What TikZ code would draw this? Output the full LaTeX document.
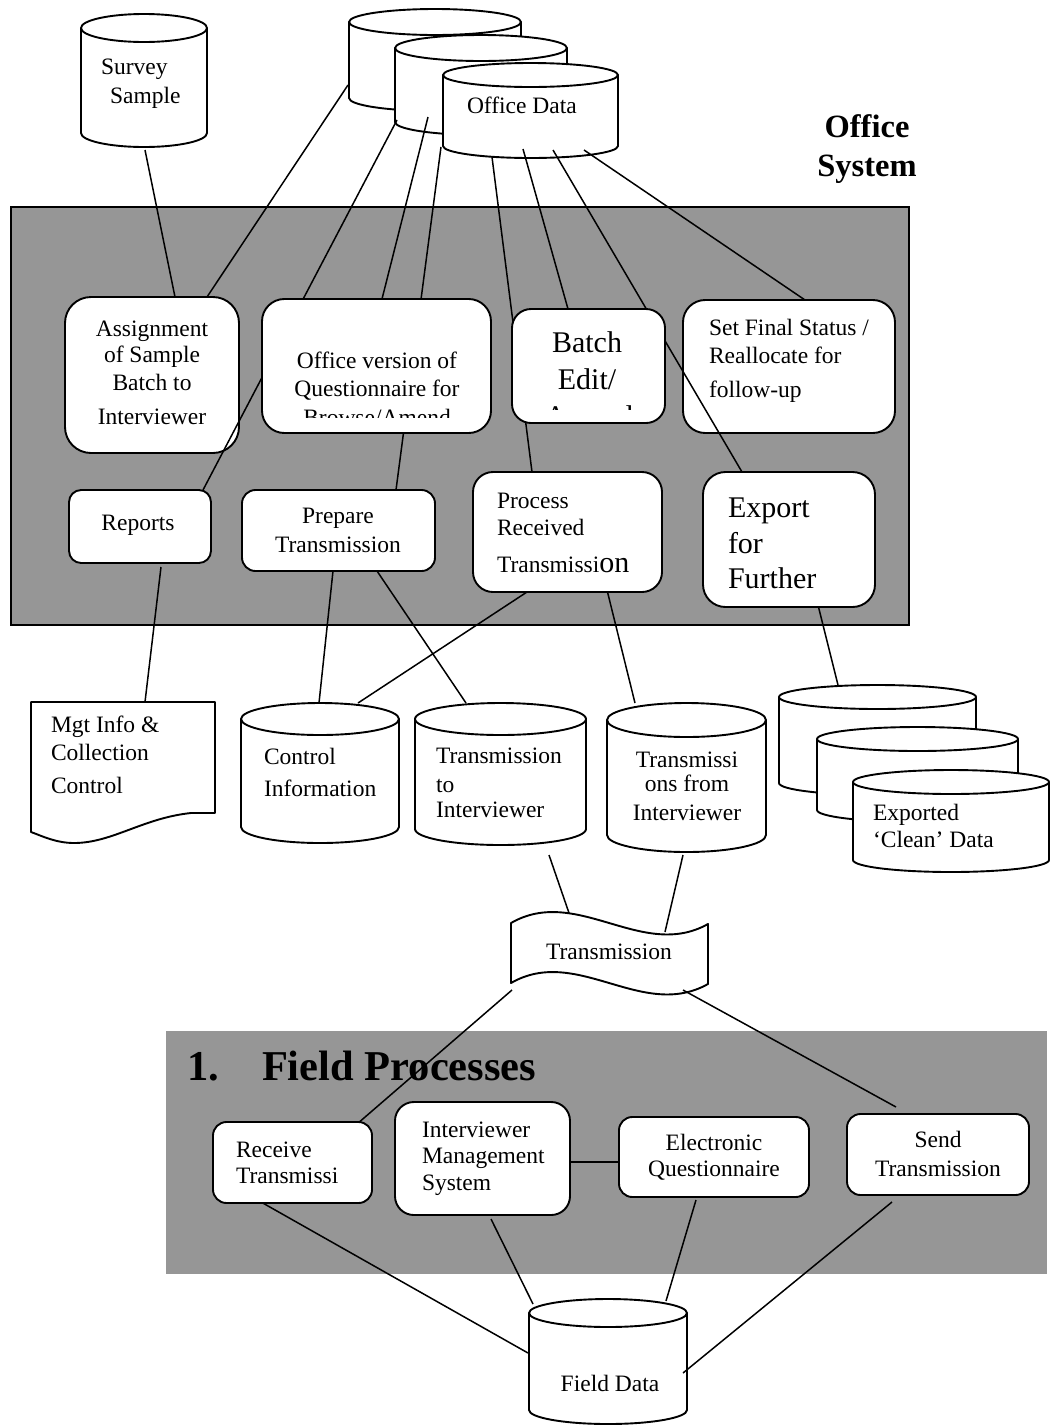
\documentclass[tikz,border=0pt]{standalone}
\usepackage{fontspec}
\setmainfont{Liberation Serif}
\definecolor{panelgray}{RGB}{150,150,150}
\pgfdeclarelayer{bg}
\pgfdeclarelayer{mid}
\pgfdeclarelayer{lines}
\pgfsetlayers{bg,mid,lines,main}
\tikzset{
  shapeline/.style={line width=1.9pt, draw=black, line join=round},
  procbox/.style={shapeline, fill=white, rectangle, inner sep=0pt, outer sep=0pt},
  anchorbox/.style={rectangle, inner sep=0pt, outer sep=0pt},
  conn/.style={line width=1.5pt, draw=black},
  lbl/.style={inner sep=0pt, outer sep=0pt, font=\fontsize{23.5}{28}\selectfont},
  biglbl/.style={inner sep=0pt, outer sep=0pt, font=\fontsize{30}{36}\selectfont},
  titlelbl/.style={inner sep=0pt, outer sep=0pt, font=\bfseries\fontsize{32.5}{39}\selectfont},
  fieldtitle/.style={inner sep=0pt, outer sep=0pt, font=\bfseries\fontsize{42.5}{50}\selectfont},
}
% name, x1, x2, y top-ellipse centre, y bottom-ellipse centre, ry
\newcommand\dbcyl[6]{%
  \pgfmathsetmacro\cylcx{(#2+#3)/2}%
  \pgfmathsetmacro\cylrx{(#3-#2)/2}%
  \pgfmathsetmacro\cylcy{(#4+#5)/2}%
  \pgfmathsetmacro\cylh{#5-#4+2*#6}%
  \pgfmathsetmacro\cylw{#3-#2}%
  \path[shapeline, fill=white] (#2,#4) -- (#2,#5)
     arc[start angle=180, end angle=360, x radius=\cylrx pt, y radius=#6 pt]
     -- (#3,#4)
     arc[start angle=0, end angle=180, x radius=\cylrx pt, y radius=#6 pt] -- cycle;
  \draw[shapeline] (#2,#4) arc[start angle=180, end angle=360, x radius=\cylrx pt, y radius=#6 pt];
  \node[anchorbox, minimum width=\cylw pt, minimum height=\cylh pt] (#1) at (\cylcx,\cylcy) {};
}
% name, x1, y1, x2, y2
\newcommand\rbox[5]{%
  \pgfmathsetmacro\rbw{#4-#2}%
  \pgfmathsetmacro\rbh{#5-#3}%
  \pgfmathsetmacro\rbr{min(\rbw,\rbh)/6}%
  \node[procbox, minimum width=\rbw pt, minimum height=\rbh pt, rounded corners=\rbr pt] (#1) at ({(#2+#4)/2},{(#3+#5)/2}) {};
}
\newcommand\conn[4]{\draw[conn] ([shift={(#2)}]#1.north west) -- ([shift={(#4)}]#3.north west);}
\begin{document}
\begin{tikzpicture}[x=1pt,y=-1pt]
\useasboundingbox (0,0) rectangle (1051,1425);

\begin{pgfonlayer}{bg}
  \path[fill=panelgray, draw=black, line width=1.5pt] (11,207) rectangle (909,625);
  \fill[panelgray] (166,1031) rectangle (1047,1274);
\end{pgfonlayer}

\begin{pgfonlayer}{mid}
  \dbcyl{ss}{81}{207}{28}{133}{14}
  \dbcyl{odA}{349}{521}{22}{98}{13}
  \dbcyl{odB}{395}{567}{48}{122}{13}
  \dbcyl{odC}{443}{618}{75}{146}{12}
  \dbcyl{ci}{241}{399}{719}{827}{16}
  \dbcyl{tti}{415}{586}{719}{829}{16}
  \dbcyl{tfi}{607}{766}{720}{835}{17}
  \dbcyl{ex1}{779}{976}{697}{783}{12}
  \dbcyl{ex2}{817}{1018}{739}{810}{12}
  \dbcyl{ex3}{853}{1049}{782}{860}{12}
  \dbcyl{fd}{529}{687}{1313}{1410}{14}
  % document shape
  \path[shapeline, fill=white] (31,702) -- (215,702) -- (215,813) -- (191,813)
     .. controls (143,818) and (112,843) .. (74,843)
     .. controls (56,843) and (42,836) .. (31,832) -- cycle;
  \node[anchorbox, minimum width=184pt, minimum height=141pt] (mgt) at (123,772.5) {};
  % punched tape shape
  \path[shapeline, fill=white] (511,923) .. controls (577,885) and (642,961) .. (708,924)
     -- (708,984) .. controls (642,1021) and (577,945) .. (511,983) -- cycle;
  \node[anchorbox, minimum width=197pt, minimum height=81pt] (fl) at (609.5,953.5) {};
  \rbox{asg}{65}{297}{239}{453}
  \rbox{sf}{683}{300}{895}{433}
  \node[fieldtitle, anchor=base west] (fpnum) at (187,1080) {1.};
  \node[fieldtitle, anchor=base west] (fptitle) at (262,1080) {Field Processes};
\end{pgfonlayer}

% boxes on top of the connectors
\rbox{ov}{262}{299}{491}{433}
\rbox{be}{512}{309}{665}{423}
\rbox{rep}{69}{490}{211}{563}
\rbox{pt}{242}{490}{435}{571}
\rbox{prt}{473}{472}{662}{592}
\rbox{ex}{703}{472}{875}{607}
\rbox{rt}{213}{1122}{372}{1203}
\rbox{ims}{395}{1102}{570}{1215}
\rbox{eq}{619}{1117}{809}{1197}
\rbox{st}{847}{1114}{1029}{1195}

% texts
\node[lbl, anchor=base west] (ssA) at (101,74) {Survey};
\node[lbl, anchor=base west] (ssB) at (110,103) {Sample};
\node[lbl, anchor=base west] (odT) at (467,113) {Office Data};
\node[titlelbl, anchor=base] (osA) at (867,137) {Office};
\node[titlelbl, anchor=base] (osB) at (867,176) {System};

\node[lbl, anchor=base] (asgA) at (152,336) {Assignment};
\node[lbl, anchor=base] (asgB) at (152,362) {of Sample};
\node[lbl, anchor=base] (asgC) at (152,390) {Batch to};
\node[lbl, anchor=base] (asgD) at (152,424) {Interviewer};

\begin{scope}
  \clip (262,299) rectangle (491,417);
  \node[lbl, anchor=base] (ovA) at (377,368) {Office version of};
  \node[lbl, anchor=base] (ovB) at (377,396) {Questionnaire for};
  \node[lbl, anchor=base] (ovC) at (377,425) {Browse/Amend};
\end{scope}

\begin{scope}
  \clip (512,309) rectangle (665,409);
  \node[biglbl, anchor=base] (beA) at (587,352) {Batch};
  \node[biglbl, anchor=base] (beB) at (587,389) {Edit/};
  \node[biglbl, anchor=base] (beC) at (589,426) {Amend};
\end{scope}

\node[lbl, anchor=base west] (sfA) at (709,335) {Set Final Status /};
\node[lbl, anchor=base west] (sfB) at (709,363) {Reallocate for};
\node[lbl, anchor=base west] (sfC) at (709,397) {follow-up};

\node[lbl, anchor=base] (repT) at (138,530) {Reports};

\node[lbl, anchor=base] (ptA) at (338,523) {Prepare};
\node[lbl, anchor=base] (ptB) at (338,552) {Transmission};

\node[lbl, anchor=base west] (prtA) at (497,508) {Process};
\node[lbl, anchor=base west] (prtB) at (497,535) {Received};
\node[lbl, anchor=base west] (prtC) at (497,572) {Transmissi{\fontsize{30}{36}\selectfont on}};

\node[biglbl, anchor=base west] (exA) at (728,517) {Export};
\node[biglbl, anchor=base west] (exB) at (728,553) {for};
\node[biglbl, anchor=base west] (exC) at (728,588) {Further};

\node[lbl, anchor=base west] (mgtA) at (51,732) {Mgt Info \&};
\node[lbl, anchor=base west] (mgtB) at (51,760) {Collection};
\node[lbl, anchor=base west] (mgtC) at (51,793) {Control};

\node[lbl, anchor=base west] (ciA) at (264,764) {Control};
\node[lbl, anchor=base west] (ciB) at (264,796) {Information};

\node[lbl, anchor=base west] (ttiA) at (436,763) {Transmission};
\node[lbl, anchor=base west] (ttiB) at (436,792) {to};
\node[lbl, anchor=base west] (ttiC) at (436,817) {Interviewer};

\node[lbl, anchor=base] (tfiA) at (687,767) {Transmissi};
\node[lbl, anchor=base] (tfiB) at (687,791) {ons from};
\node[lbl, anchor=base] (tfiC) at (687,820) {Interviewer};

\node[lbl, anchor=base west] (exdA) at (873,820) {Exported};
\node[lbl, anchor=base west] (exdB) at (873,847) {‘Clean’ Data};

\node[lbl, anchor=base] (flT) at (609,959) {Transmission};

\node[lbl, anchor=base west] (rtA) at (236,1157) {Receive};
\node[lbl, anchor=base west] (rtB) at (236,1183) {Transmissi};

\node[lbl, anchor=base west] (imsA) at (422,1137) {Interviewer};
\node[lbl, anchor=base west] (imsB) at (422,1163) {Management};
\node[lbl, anchor=base west] (imsC) at (422,1190) {System};

\node[lbl, anchor=base] (eqA) at (714,1150) {Electronic};
\node[lbl, anchor=base] (eqB) at (714,1176) {Questionnaire};

\node[lbl, anchor=base] (stA) at (938,1147) {Send};
\node[lbl, anchor=base] (stB) at (938,1176) {Transmission};

\node[lbl, anchor=base] (fdT) at (610,1391) {Field Data};

% connectors
\begin{pgfonlayer}{lines}
  \conn{ss}{64,136}{asg}{110,0}
  \conn{odA}{-1,76}{asg}{142,0}
  \conn{odB}{2,85}{rep}{134,0}
  \conn{odB}{33,82}{ov}{120,0}
  \conn{odC}{-2,84}{pt}{154,0}
  \conn{odC}{49,94}{prt}{59,0}
  \conn{odC}{80,86}{be}{56,0}
  \conn{odC}{110,87}{ex}{39,0}
  \conn{odC}{141,87}{sf}{122,0}
  \conn{rep}{92,77}{mgt}{114,0}
  \conn{pt}{91,81}{ci}{78,0}
  \conn{pt}{135,81}{tti}{51,0}
  \conn{prt}{57,118}{ci}{117,0}
  \conn{prt}{134,118}{tfi}{28,0}
  \conn{ex}{115,133}{ex1}{59,0}
  \conn{tti}{134,152}{fl}{58,0}
  \conn{tfi}{76,152}{fl}{154,19}
  \conn{fl}{1,77}{rt}{144,2}
  \conn{fl}{172,77}{st}{49,-7}
  \conn{ims}{175,60}{eq}{0,45}
  \conn{rt}{48,80}{fd}{-1,54}
  \conn{ims}{96,117}{fd}{4,5}
  \conn{eq}{77,83}{fd}{137,2}
  \conn{st}{45,88}{fd}{154,74}
\end{pgfonlayer}
\end{tikzpicture}
\end{document}
